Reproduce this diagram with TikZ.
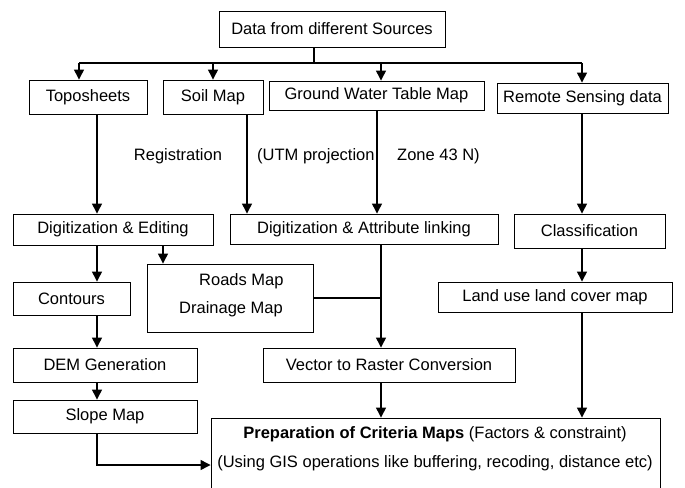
\documentclass[tikz,border=0pt]{standalone}
\usepackage{fontspec}
\setmainfont{Liberation Sans}
\usetikzlibrary{arrows.meta}
\begin{document}
\begin{tikzpicture}[x=1pt,y=-1pt,
  box/.style={draw, line width=0.9pt, inner sep=0pt, font=\fontsize{16.5}{19}\selectfont},
  txt/.style={inner sep=0pt, font=\fontsize{16.5}{19}\selectfont},
  conn/.style={line width=1.3pt},
  arr/.style={conn, -{Triangle[length=10pt,width=10pt]}}]
\useasboundingbox (0,0) rectangle (685,487);
% boxes
\node[box, minimum width=226pt, minimum height=36pt] (data) at (332,29) {Data from different Sources};
\node[box, minimum width=118pt, minimum height=34pt] (topo) at (88,97) {Toposheets};
\node[box, minimum width=100pt, minimum height=34pt] (soil) at (213,97) {Soil Map};
\node[box, minimum width=215pt, minimum height=29pt] (gw) at (376.5,95.5) {Ground Water Table Map};
\node[box, minimum width=171pt, minimum height=30pt] (rs) at (582.5,98) {Remote Sensing data};
\node[box, minimum width=200pt, minimum height=31pt] (dige) at (113,229.5) {Digitization \& Editing};
\node[box, minimum width=268pt, minimum height=30pt] (diga) at (364,229) {Digitization \& Attribute linking};
\node[box, minimum width=151pt, minimum height=34pt] (class) at (589.5,231) {Classification};
\node[box, minimum width=117pt, minimum height=33pt] (cont) at (71.5,298.5) {Contours};
\node[box, minimum width=166pt, minimum height=68pt] (roads) at (230,298) {};
\node[txt, anchor=west] (roadst) at (199,281) {Roads Map};
\node[txt, anchor=west] (draint) at (179,309) {Drainage Map};
\node[box, minimum width=234pt, minimum height=30pt] (lulc) at (555,297) {Land use land cover map};
\node[box, minimum width=184pt, minimum height=34pt] (dem) at (105,365) {DEM Generation};
\node[box, minimum width=252pt, minimum height=34pt] (vec) at (389,365) {Vector to Raster Conversion};
\node[box, minimum width=184pt, minimum height=33pt] (slope) at (105,416.5) {Slope Map};
\node[box, minimum width=449pt, minimum height=84pt] (prep) at (435.5,460) {};
\node[txt] (prep1) at (435,434) {\textbf{Preparation of Criteria Maps} (Factors \& constraint)};
\node[txt] (prep2) at (435,463) {(Using GIS operations like buffering, recoding, distance etc)};
% labels
\node[txt] (reg) at (178,156) {Registration};
\node[txt, anchor=west] (utm) at (257,156) {(UTM projection,};
\node[txt, anchor=west] (zone) at (397,156) {Zone 43 N)};
% column coordinates
\coordinate (bus) at (314,63);
\coordinate (k79) at (79,0);
\coordinate (k97) at (97,0);
\coordinate (k163) at (163,0);
\coordinate (k213) at (213,0);
\coordinate (k247) at (247,0);
\coordinate (k377) at (377,0);
\coordinate (k381) at (381,0);
\coordinate (k582) at (582,0);
\coordinate (j1) at (381,298);
\coordinate (s1) at (97,465);
% connectors
\draw[conn] (data.south -| bus) -- (bus);
\draw[conn] (k79 |- bus) -- (k582 |- bus);
\draw[arr] (k79 |- bus) -- (k79 |- topo.north);
\draw[arr] (k213 |- bus) -- (k213 |- soil.north);
\draw[arr] (k381 |- bus) -- (k381 |- gw.north);
\draw[arr] (k582 |- bus) -- (k582 |- rs.north);
\draw[arr] (k97 |- topo.south) -- (k97 |- dige.north);
\draw[arr] (k247 |- soil.south) -- (k247 |- diga.north);
\draw[arr] (k377 |- gw.south) -- (k377 |- diga.north);
\draw[arr] (k582 |- rs.south) -- (k582 |- class.north);
\draw[arr] (k97 |- dige.south) -- (k97 |- cont.north);
\draw[arr] (k163 |- dige.south) -- (k163 |- roads.north);
\draw[arr] (k97 |- cont.south) -- (k97 |- dem.north);
\draw[arr] (k97 |- dem.south) -- (k97 |- slope.north);
\draw[arr] (slope.south -| s1) |- (prep.west |- s1);
\draw[arr] (k582 |- class.south) -- (k582 |- lulc.north);
\draw[arr] (k381 |- diga.south) -- (k381 |- vec.north);
\draw[conn] (roads.east |- j1) -- (j1);
\draw[arr] (k381 |- vec.south) -- (k381 |- prep.north);
\draw[arr] (k582 |- lulc.south) -- (k582 |- prep.north);
\end{tikzpicture}
\end{document}
